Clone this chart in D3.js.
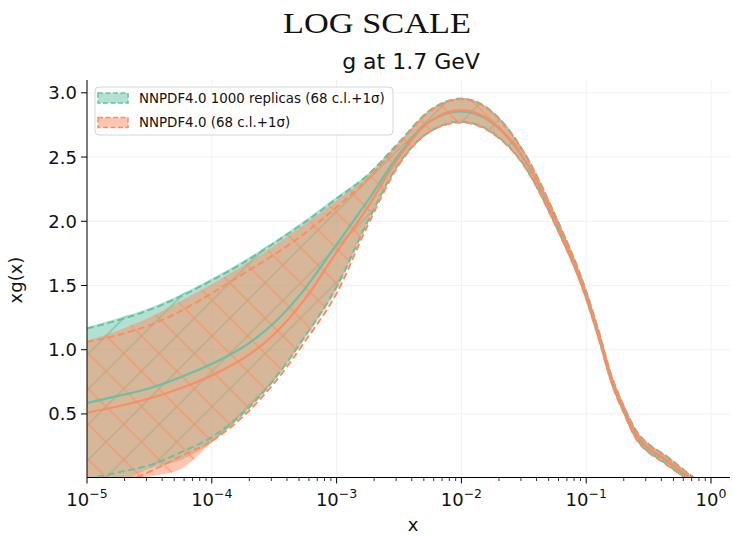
<!DOCTYPE html>
<html><head><meta charset="utf-8">
<script src="https://cdn.jsdelivr.net/npm/d3@7"></script>
<style>body{margin:0;background:#fff} svg{display:block} text{font-family:"DejaVu Sans",sans-serif;fill:#111}</style>
</head><body><svg id="c" width="733" height="536"></svg>
<script>
// x grid (log-spaced)
const xs = [1e-5,1.778e-5,3.162e-5,5.623e-5,1e-4,1.778e-4,3.162e-4,5.623e-4,1e-3,1.778e-3,3.162e-3,5.623e-3,1e-2,1.778e-2,3.162e-2,5.623e-2,0.1,0.1259,0.1585,0.1995,0.2512,0.3162,0.3981,0.5012,0.631,0.7079,0.7943];
// NNPDF4.0 1000 replicas (green)
const gCentral = [0.585,0.64,0.70,0.785,0.89,1.02,1.21,1.48,1.82,2.16,2.52,2.78,2.855,2.765,2.485,2.015,1.425,1.115,0.775,0.535,0.335,0.23,0.165,0.095,0.02,-0.015,-0.055];
const gCLhi = [1.175,1.245,1.325,1.43,1.555,1.69,1.845,2.01,2.19,2.37,2.62,2.87,2.96,2.85,2.54,2.05,1.455,1.145,0.805,0.565,0.37,0.265,0.20,0.13,0.05,0.015,-0.025];
const gCLlo = [-0.2,-0.06,0.075,0.14,0.28,0.50,0.765,1.105,1.485,1.995,2.445,2.70,2.775,2.69,2.44,1.98,1.40,1.09,0.755,0.515,0.31,0.205,0.14,0.07,0.0,-0.04,-0.08];
const gSDhi = [1.165,1.23,1.31,1.415,1.54,1.675,1.83,1.995,2.175,2.36,2.615,2.865,2.955,2.85,2.54,2.05,1.455,1.145,0.805,0.565,0.37,0.265,0.20,0.13,0.05,0.015,-0.025];
const gSDlo = [-0.01,0.045,0.10,0.20,0.32,0.505,0.77,1.11,1.49,2.0,2.45,2.70,2.775,2.69,2.44,1.98,1.40,1.09,0.755,0.515,0.31,0.205,0.14,0.07,0.0,-0.04,-0.08];
// NNPDF4.0 (orange)
const oCentral = [0.51,0.56,0.62,0.70,0.80,0.93,1.12,1.40,1.76,2.11,2.50,2.78,2.865,2.77,2.49,2.02,1.43,1.12,0.78,0.54,0.34,0.235,0.17,0.10,0.025,-0.01,-0.05];
const oCLhi = [1.07,1.15,1.25,1.38,1.51,1.655,1.81,1.98,2.16,2.35,2.61,2.865,2.955,2.85,2.54,2.05,1.455,1.145,0.805,0.565,0.37,0.265,0.20,0.13,0.05,0.015,-0.025];
const oCLlo = [-0.3,-0.07,0.01,0.07,0.28,0.49,0.755,1.09,1.465,1.985,2.445,2.70,2.775,2.69,2.44,1.98,1.40,1.09,0.755,0.515,0.31,0.205,0.14,0.07,0.0,-0.04,-0.08];
const oSDhi = [1.06,1.115,1.19,1.30,1.44,1.59,1.74,1.91,2.11,2.33,2.60,2.86,2.95,2.845,2.535,2.045,1.45,1.14,0.80,0.56,0.365,0.26,0.195,0.125,0.045,0.01,-0.03];
const oSDlo = [-0.12,-0.05,0.05,0.17,0.29,0.48,0.74,1.07,1.44,1.97,2.44,2.70,2.77,2.685,2.435,1.975,1.395,1.085,0.75,0.51,0.305,0.20,0.135,0.065,-0.005,-0.045,-0.085];

const xTicks = [1e-5,1e-4,1e-3,1e-2,1e-1,1];
const xTickExp = ["\u22125","\u22124","\u22123","\u22122","\u22121","0"];
const yTicks = [0.5,1.0,1.5,2.0,2.5,3.0];
const legendLabels = ["NNPDF4.0 1000 replicas (68 c.l.+1\u03c3)","NNPDF4.0 (68 c.l.+1\u03c3)"];
const colors = ["#66c2a5","#fc8d62"];

const svg = d3.select("#c");
const m = {l:87, r:730, t:80, b:477.5};
const x = d3.scaleLog().domain([1e-5, 1.42]).range([m.l, m.r]);
const y = d3.scaleLinear().domain([0.005, 3.1]).range([m.b, m.t]);

const defs = svg.append("defs");
defs.append("clipPath").attr("id","clip").append("rect")
  .attr("x",m.l).attr("y",m.t).attr("width",m.r-m.l).attr("height",m.b-m.t);
function hatch(id, color, angle, op){
  const p = defs.append("pattern").attr("id",id).attr("patternUnits","userSpaceOnUse")
    .attr("width",25).attr("height",25).attr("patternTransform",`rotate(${angle})`);
  p.append("line").attr("x1",12.5).attr("y1",-1).attr("x2",12.5).attr("y2",26)
    .attr("stroke",color).attr("stroke-width",1.4).attr("stroke-opacity",op);
}
hatch("hg", colors[0], 45, 0.8);
hatch("ho", colors[1], -45, 0.75);

// grid
const grid = svg.append("g");
xTicks.forEach(t => grid.append("line").attr("x1",x(t)).attr("x2",x(t)).attr("y1",m.t).attr("y2",m.b).attr("stroke","#f1f1f1").attr("stroke-width",1));
yTicks.forEach(t => grid.append("line").attr("x1",m.l).attr("x2",m.r).attr("y1",y(t)).attr("y2",y(t)).attr("stroke","#f1f1f1").attr("stroke-width",1));

const plot = svg.append("g").attr("clip-path","url(#clip)");
const curve = d3.curveMonotoneX;
function band(lo, hi){
  return d3.area().x((d,i)=>x(xs[i])).y0((d,i)=>y(lo[i])).y1((d,i)=>y(hi[i])).curve(curve)(xs);
}
function line(v){
  return d3.line().x((d,i)=>x(xs[i])).y((d,i)=>y(v[i])).curve(curve)(xs);
}
// fills
plot.append("path").attr("d",band(gCLlo,gCLhi)).attr("fill",colors[0]).attr("fill-opacity",0.5);
plot.append("path").attr("d",band(gCLlo,gCLhi)).attr("fill","url(#hg)");
plot.append("path").attr("d",band(oCLlo,oCLhi)).attr("fill",colors[1]).attr("fill-opacity",0.5);
plot.append("path").attr("d",band(oCLlo,oCLhi)).attr("fill","url(#ho)");
// lines
const series = [
  {c:colors[0], cen:gCentral, hi:gSDhi, lo:gSDlo},
  {c:colors[1], cen:oCentral, hi:oSDhi, lo:oSDlo}
];
series.forEach(s=>{
  [s.hi, s.lo].forEach(v=>plot.append("path").attr("d",line(v)).attr("fill","none")
     .attr("stroke",s.c).attr("stroke-width",2).attr("stroke-dasharray","7,3.5"));
  plot.append("path").attr("d",line(s.cen)).attr("fill","none").attr("stroke",s.c).attr("stroke-width",2.2);
});

// axes
const ax = svg.append("g");
ax.append("line").attr("x1",m.l).attr("x2",m.r).attr("y1",m.b).attr("y2",m.b).attr("stroke","#000").attr("stroke-width",1);
ax.append("line").attr("x1",m.l).attr("x2",m.l).attr("y1",m.t).attr("y2",m.b).attr("stroke","#000").attr("stroke-width",1);
// x ticks
const minor = [];
for (let e=-5; e<=0; e++) for (let k=2;k<=9;k++){ const v=k*Math.pow(10,e); if (v<=x.domain()[1]) minor.push(v); }
minor.forEach(v=>ax.append("line").attr("x1",x(v)).attr("x2",x(v)).attr("y1",m.b).attr("y2",m.b+3.5).attr("stroke","#000").attr("stroke-width",0.8));
xTicks.forEach((t,i)=>{
  ax.append("line").attr("x1",x(t)).attr("x2",x(t)).attr("y1",m.b).attr("y2",m.b+6).attr("stroke","#000").attr("stroke-width",1);
  const tx = ax.append("text").attr("x",x(t)).attr("y",506).attr("text-anchor","middle").attr("font-size",18);
  tx.append("tspan").text("10");
  tx.append("tspan").attr("dy",-8).attr("font-size",12.5).text(xTickExp[i]);
});
yTicks.forEach(t=>{
  ax.append("line").attr("x1",m.l-6).attr("x2",m.l).attr("y1",y(t)).attr("y2",y(t)).attr("stroke","#000").attr("stroke-width",1);
  ax.append("text").attr("x",m.l-10).attr("y",y(t)+6.5).attr("text-anchor","end").attr("font-size",18).text(t.toFixed(1));
});
// labels
svg.append("text").attr("x",413).attr("y",531).attr("text-anchor","middle").attr("font-size",18).text("x");
svg.append("text").attr("transform","translate(22,280) rotate(-90)").attr("text-anchor","middle").attr("font-size",18).text("xg(x)");
svg.append("text").attr("x",411).attr("y",69).attr("text-anchor","middle").attr("font-size",22).text("g at 1.7 GeV");
svg.append("text").attr("x",377).attr("y",33).attr("text-anchor","middle")
  .style("font-family","'Liberation Serif',serif").attr("font-size",29)
  .attr("textLength",188).attr("lengthAdjust","spacingAndGlyphs").text("LOG SCALE");

// legend
const lg = svg.append("g");
lg.append("rect").attr("x",95).attr("y",87).attr("width",298).attr("height",48).attr("rx",4)
  .attr("fill","#fff").attr("fill-opacity",0.8).attr("stroke","#d5d5d5").attr("stroke-width",1);
legendLabels.forEach((lab,i)=>{
  const yy = 93 + i*24.5;
  lg.append("rect").attr("x",98).attr("y",yy).attr("width",30).attr("height",10)
    .attr("fill",colors[i]).attr("fill-opacity",0.5).attr("stroke",colors[i]).attr("stroke-width",1.5).attr("stroke-dasharray","5,2.5");
  lg.append("text").attr("x",139).attr("y",yy+9.5).attr("font-size",13.4).text(lab);
});
</script></body></html>
